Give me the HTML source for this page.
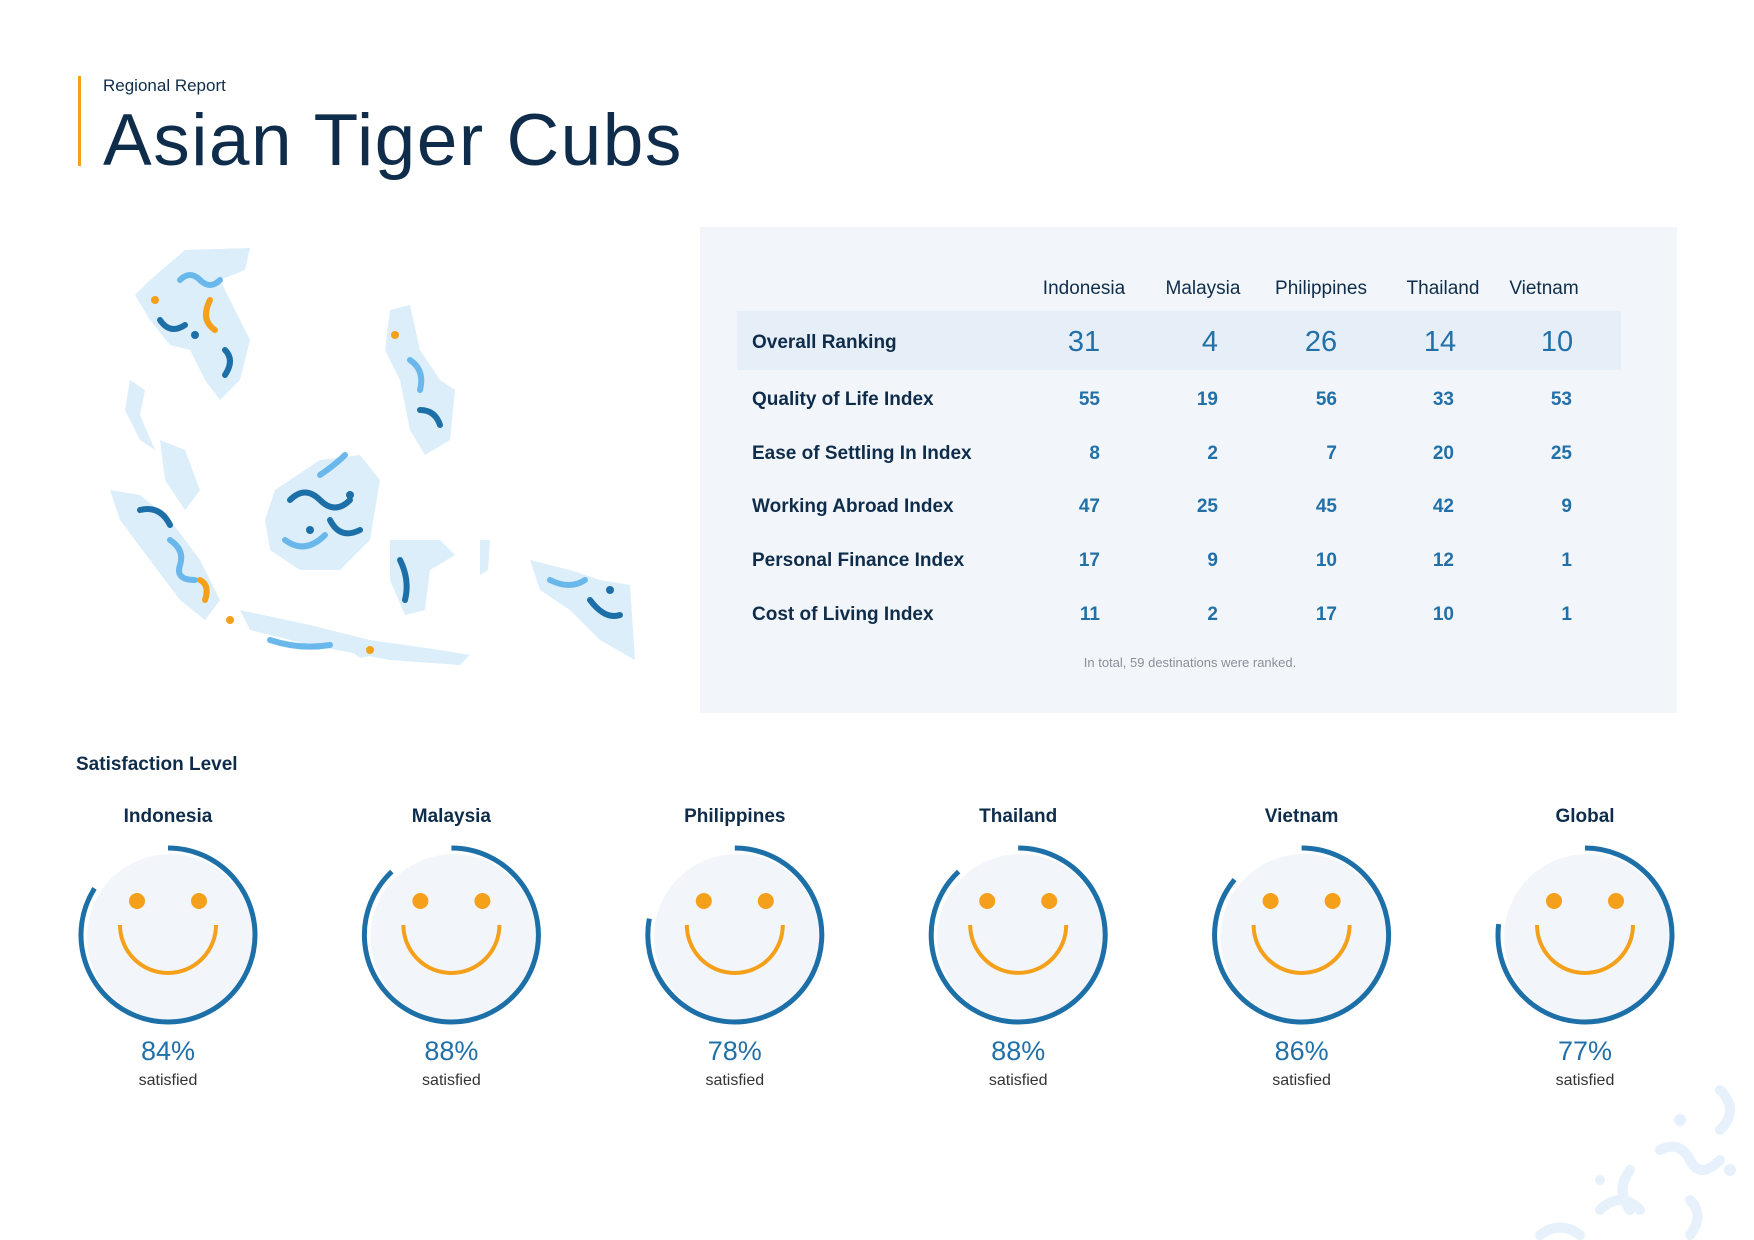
<!DOCTYPE html>
<html><head><meta charset="utf-8">
<style>
html,body{margin:0;padding:0;background:#fff;}
body{width:1754px;height:1240px;position:relative;overflow:hidden;font-family:"Liberation Sans",sans-serif;color:#0f2d4a;}
.abs{position:absolute;}
</style></head>
<body>
<div class="abs" style="left:78px;top:76px;width:3px;height:90px;background:#f5a01a;"></div>
<div class="abs" style="left:103px;top:76px;font-size:17px;color:#0f2d4a;">Regional Report</div>
<div class="abs" style="left:103px;top:99px;font-size:73px;letter-spacing:1.5px;color:#0f2d4a;">Asian Tiger Cubs</div>

<svg class="abs" style="left:110px;top:240px" width="530" height="440" viewBox="0 0 530 440">
  <g fill="#dbeefa" stroke="none">
    <path d="M75 10 L140 8 L135 30 L110 40 L125 70 L140 100 L130 140 L110 160 L95 140 L80 110 L60 105 L40 80 L25 55 L40 40 Z"/>
    <path d="M20 140 L35 150 L30 175 L45 210 L30 200 L15 170 Z"/>
    <path d="M0 250 L30 255 L60 280 L90 320 L110 360 L95 380 L70 360 L40 320 L10 280 Z"/>
    <path d="M50 200 L75 210 L90 250 L75 270 L55 240 Z"/>
    <path d="M130 370 L200 385 L260 400 L330 410 L360 415 L350 425 L280 420 L200 405 L140 390 Z"/>
    <path d="M165 250 L210 220 L250 215 L270 240 L260 300 L230 330 L190 330 L160 310 L155 280 Z"/>
    <path d="M280 300 L330 300 L345 315 L320 330 L315 370 L295 375 L280 340 Z"/>
    <path d="M280 70 L300 65 L310 110 L330 140 L345 150 L340 200 L315 215 L300 190 L290 140 L275 110 Z"/>
    <path d="M420 320 L460 330 L490 340 L520 345 L525 420 L490 400 L460 370 L430 350 Z"/>
    <path d="M370 300 L380 300 L378 330 L370 335 Z"/>
    <path d="M240 410 L260 408 L265 415 L250 418 Z"/>
  </g>
  <g fill="none" stroke-width="6" stroke-linecap="round">
    <path d="M70 40 q10 -10 20 0 t20 0" stroke="#6ab7ec"/>
    <path d="M50 80 q10 15 25 5" stroke="#1d6fa8"/>
    <path d="M100 60 q-10 20 5 30" stroke="#f5a01a"/>
    <path d="M115 110 q10 10 0 25" stroke="#1d6fa8"/>
    <path d="M30 270 q20 -5 30 15" stroke="#1d6fa8"/>
    <path d="M60 300 q15 10 10 25 t15 15" stroke="#6ab7ec"/>
    <path d="M90 340 q10 5 5 20" stroke="#f5a01a"/>
    <path d="M180 260 q15 -15 30 0 t30 0" stroke="#1d6fa8"/>
    <path d="M175 300 q20 15 40 -5" stroke="#6ab7ec"/>
    <path d="M220 280 q10 20 30 10" stroke="#1d6fa8"/>
    <path d="M210 235 q15 -10 25 -20" stroke="#6ab7ec"/>
    <path d="M290 320 q10 20 5 40" stroke="#1d6fa8"/>
    <path d="M300 120 q15 10 10 30" stroke="#6ab7ec"/>
    <path d="M310 170 q15 0 20 15" stroke="#1d6fa8"/>
    <path d="M440 340 q20 10 35 0" stroke="#6ab7ec"/>
    <path d="M480 360 q15 20 30 15" stroke="#1d6fa8"/>
    <path d="M160 400 q30 10 60 5" stroke="#6ab7ec"/>
  </g>
  <g>
    <circle cx="85" cy="95" r="4" fill="#1d6fa8"/><circle cx="45" cy="60" r="4" fill="#f5a01a"/>
    <circle cx="200" cy="290" r="4" fill="#1d6fa8"/><circle cx="240" cy="255" r="4" fill="#1d6fa8"/>
    <circle cx="285" cy="95" r="4" fill="#f5a01a"/><circle cx="500" cy="350" r="4" fill="#1d6fa8"/>
    <circle cx="120" cy="380" r="4" fill="#f5a01a"/><circle cx="260" cy="410" r="4" fill="#f5a01a"/>
  </g>
</svg>

<div class="abs" style="left:700px;top:227px;width:977px;height:486px;background:#f2f6fb;"></div>
<div class="abs" style="left:737px;top:311px;width:884px;height:59px;background:#e6eef8;"></div>
<div id="table"></div>
<div class="abs" style="left:1000px;top:655px;width:380px;text-align:center;font-size:13px;color:#8a8f98;">In total, 59 destinations were ranked.</div>

<div class="abs" style="left:76px;top:754px;font-size:19px;font-weight:bold;color:#0f2d4a;">Satisfaction Level</div>
<svg id="faces" class="abs" style="left:0;top:780px" width="1754" height="320"></svg>

<svg class="abs" style="left:1480px;top:1060px" width="274" height="180">
  <g fill="none" stroke="#e6f1fb" stroke-width="10" stroke-linecap="round">
    <path d="M240 30 q20 20 0 40"/><path d="M180 90 q20 -10 30 10 t30 0"/>
    <path d="M120 150 q20 -20 40 0"/><path d="M210 140 q15 15 0 35"/>
    <path d="M60 175 q20 -15 40 0"/><path d="M150 110 q-15 20 0 40"/>
  </g>
  <g fill="#e6f1fb"><circle cx="200" cy="60" r="6"/><circle cx="120" cy="120" r="5"/><circle cx="250" cy="110" r="6"/></g>
</svg>

<script>
const columns = ["Indonesia","Malaysia","Philippines","Thailand","Vietnam"];
const rowLabels = ["Overall Ranking","Quality of Life Index","Ease of Settling In Index","Working Abroad Index","Personal Finance Index","Cost of Living Index"];
const overallRanking = [31,4,26,14,10];
const qualityOfLife = [55,19,56,33,53];
const easeOfSettling = [8,2,7,20,25];
const workingAbroad = [47,25,45,42,9];
const personalFinance = [17,9,10,12,1];
const costOfLiving = [11,2,17,10,1];
const satCountries = ["Indonesia","Malaysia","Philippines","Thailand","Vietnam","Global"];
const satValues = [84,88,78,88,86,77];

const NS="http://www.w3.org/2000/svg";
const tbl=document.getElementById('table');
const colCenter=[1084,1203,1321,1443,1544];
const numRight=[1100,1218,1337,1454,1572];
const overallCenter=[1084,1210,1321,1440,1557];
const rowY=[344,401,455,508,562,616];
const rowsData=[overallRanking,qualityOfLife,easeOfSettling,workingAbroad,personalFinance,costOfLiving];
function div(style,text){const d=document.createElement('div');d.className='abs';d.setAttribute('style',style);d.textContent=text;tbl.appendChild(d);return d;}
columns.forEach((c,i)=>{
  const d=div(`left:${colCenter[i]-80}px;top:${291-13}px;width:160px;text-align:center;font-size:19px;color:#0f2d4a;`,c);
  
  
});
rowLabels.forEach((lab,r)=>{
  const d=div(`left:752px;top:${rowY[r]-12}px;font-size:19px;font-weight:bold;color:#0f2d4a;`,lab);
  
  
  rowsData[r].forEach((v,i)=>{
    let e;
    if(r===0){
      e=div(`left:${overallCenter[i]-50}px;top:${rowY[r]-18}px;width:100px;text-align:center;font-size:29px;color:#2270a8;`,v);
    }else{
      e=div(`left:${numRight[i]-100}px;top:${rowY[r]-12}px;width:100px;text-align:right;font-size:19px;font-weight:bold;color:#2270a8;`,v);
    }
    
    
  });
});

const svg=document.getElementById('faces');
function el(t,a){const e=document.createElementNS(NS,t);for(const k in a)e.setAttribute(k,a[k]);svg.appendChild(e);return e;}
const cy=155, R=87;
const xPos=i=>168+i*283.4;
satCountries.forEach((c,i)=>{
  const cx=xPos(i), v=satValues[i];
  const t=el('text',{x:cx,y:42,'text-anchor':'middle','font-size':19,'font-weight':'bold',fill:'#0f2d4a'});t.textContent=c;
  
  
  const bg=el('circle',{cx:cx+2,cy:cy+2,r:R-4,fill:'#f2f6fb'});
  
  
  const ang=v/100*2*Math.PI;
  const ex=cx+R*Math.sin(ang), ey=cy-R*Math.cos(ang);
  const arc=el('path',{d:`M${cx} ${cy-R} A${R} ${R} 0 ${v>50?1:0} 1 ${ex} ${ey}`,fill:'none',stroke:'#1d6fa8','stroke-width':5});
  
  
  const e1=el('circle',{cx:cx-31,cy:cy-34,r:8,fill:'#f5a01a'});
  
  
  const e2=el('circle',{cx:cx+31,cy:cy-34,r:8,fill:'#f5a01a'});
  
  
  const sm=el('path',{d:`M${cx-48} ${cy-10} A48 48 0 0 0 ${cx+48} ${cy-10}`,fill:'none',stroke:'#f5a01a','stroke-width':4});
  
  
  const p=el('text',{x:cx,y:280,'text-anchor':'middle','font-size':27,fill:'#2270a8'});p.textContent=v+'%';
  
  
  const s=el('text',{x:cx,y:305,'text-anchor':'middle','font-size':16,fill:'#333'});s.textContent='satisfied';
  
  
});
</script>
</body></html>
